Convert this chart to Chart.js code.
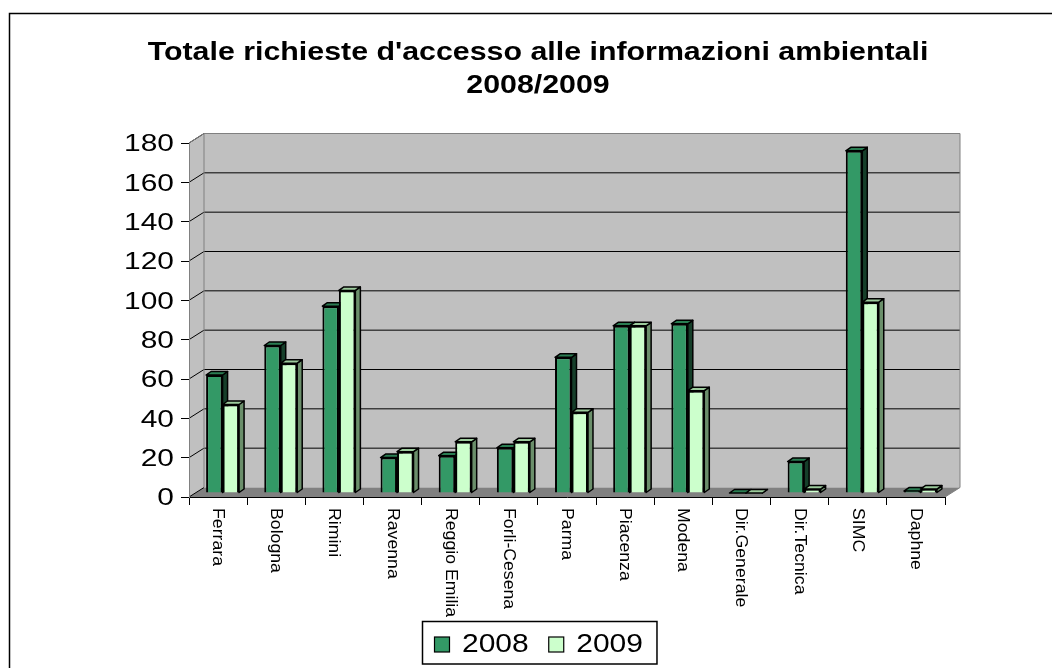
<!DOCTYPE html>
<html lang="it">
<head>
<meta charset="utf-8">
<title>Richieste d'accesso alle informazioni ambientali</title>
<script src="https://cdn.jsdelivr.net/npm/chart.js@4.4.1/dist/chart.umd.min.js"></script>
<style>
  html, body { margin: 0; padding: 0; background: #fff; }
  #grafico { display: block; }
</style>
</head>
<body>
<canvas id="grafico" width="1052" height="668"></canvas>
<script>
// ===============================
// Dati
// ===============================
const sedi = ['Ferrara', 'Bologna', 'Rimini', 'Ravenna', 'Reggio Emilia', 'Forli-Cesena', 'Parma',
  'Piacenza', 'Modena', 'Dir.Generale', 'Dir.Tecnica', 'SIMC', 'Daphne'];
const anni = ['2008', '2009'];
const richieste2008 = [60, 75, 95, 18, 19, 23, 69, 85, 86, 0, 16, 174, 1];
const richieste2009 = [45, 66, 103, 21, 26, 26, 41, 85, 52, 0, 2, 97, 2];
const asseY = { min: 0, max: 180, passo: 20 };
const titolo = ["Totale richieste d'accesso alle informazioni ambientali", '2008/2009'];

// colori stile Excel: fronte, lato, cima
const colori = [
  { fronte: '#339966', lato: '#163F2A', cima: '#2A7D52' },
  { fronte: '#CCFFCC', lato: '#6B8F6B', cima: '#9CCB9C' }
];

const FONT = '"Liberation Sans", Arial, sans-serif';
const PARETE = { dx: 15, dy: -9.5 };  // profondita' delle pareti
const COLONNA = { dx: 5, dy: -3.5 };  // profondita' delle colonne
const SPOSTA = { x: 4.5, y: -4 };     // colonne a meta' del pavimento

// ===============================
// Plugin: pareti, colonne 3D, testi
// ===============================
const scena3d = {
  id: 'scena3d',
  beforeDraw(chart) {
    const { ctx, chartArea: a } = chart;
    const y = chart.scales.y;
    const dx = PARETE.dx, dy = PARETE.dy;
    ctx.save();
    ctx.fillStyle = '#fff';
    ctx.fillRect(0, 0, chart.width, chart.height);

    // cornice esterna
    ctx.strokeStyle = '#000';
    ctx.lineWidth = 1.5;
    ctx.strokeRect(9.5, 13.5, chart.width, chart.height);

    // parete laterale + parete di fondo
    ctx.fillStyle = '#C0C0C0';
    ctx.beginPath();
    ctx.moveTo(a.left, a.top);
    ctx.lineTo(a.left + dx, a.top + dy);
    ctx.lineTo(a.left + dx, a.bottom + dy);
    ctx.lineTo(a.left, a.bottom);
    ctx.closePath();
    ctx.fill();
    ctx.fillRect(a.left + dx, a.top + dy, a.right - a.left, a.bottom - a.top);

    // pavimento
    ctx.fillStyle = '#808080';
    ctx.beginPath();
    ctx.moveTo(a.left, a.bottom);
    ctx.lineTo(a.left + dx, a.bottom + dy);
    ctx.lineTo(a.right + dx, a.bottom + dy);
    ctx.lineTo(a.right, a.bottom);
    ctx.closePath();
    ctx.fill();

    // griglia sulla parete
    ctx.strokeStyle = '#000';
    ctx.lineWidth = 1;
    y.ticks.forEach(t => {
      const py = y.getPixelForValue(t.value);
      ctx.beginPath();
      ctx.moveTo(a.left, py);
      ctx.lineTo(a.left + dx, py + dy);
      if (t.value > y.min && t.value < y.max) ctx.lineTo(a.right + dx, py + dy);
      ctx.stroke();
    });

    // bordi grigi
    ctx.strokeStyle = '#808080';
    ctx.beginPath();
    ctx.moveTo(a.left, a.top);
    ctx.lineTo(a.left + dx, a.top + dy);
    ctx.lineTo(a.right + dx, a.top + dy);
    ctx.lineTo(a.right + dx, a.bottom + dy);
    ctx.lineTo(a.right, a.bottom);
    ctx.moveTo(a.left + dx, a.top + dy);
    ctx.lineTo(a.left + dx, a.bottom + dy);
    ctx.stroke();
    ctx.restore();
  },

  beforeDatasetsDraw(chart) {
    const ctx = chart.ctx;
    ctx.save();
    ctx.translate(SPOSTA.x, SPOSTA.y);
    ctx.strokeStyle = '#000';
    ctx.lineWidth = 1.5;
    ctx.lineJoin = 'round';
    chart.data.datasets.forEach((ds, i) => {
      const c = colori[i];
      chart.getDatasetMeta(i).data.forEach(bar => {
        const { x, y, base, width } = bar.getProps(['x', 'y', 'base', 'width'], true);
        const l = x - width / 2, r = x + width / 2;
        // lato destro
        ctx.fillStyle = c.lato;
        ctx.beginPath();
        ctx.moveTo(r, y);
        ctx.lineTo(r + COLONNA.dx, y + COLONNA.dy);
        ctx.lineTo(r + COLONNA.dx, base + COLONNA.dy);
        ctx.lineTo(r, base);
        ctx.closePath();
        ctx.fill();
        ctx.stroke();
        // cima
        ctx.fillStyle = c.cima;
        ctx.beginPath();
        ctx.moveTo(l, y);
        ctx.lineTo(l + COLONNA.dx, y + COLONNA.dy);
        ctx.lineTo(r + COLONNA.dx, y + COLONNA.dy);
        ctx.lineTo(r, y);
        ctx.closePath();
        ctx.fill();
        ctx.stroke();
      });
    });
  },

  afterDatasetsDraw(chart) {
    chart.ctx.restore();
  },

  afterDraw(chart) {
    const { ctx, chartArea: a } = chart;
    const x = chart.scales.x, y = chart.scales.y;
    ctx.save();
    ctx.fillStyle = '#000';

    // titolo
    ctx.font = 'bold 25.5px ' + FONT;
    ctx.textAlign = 'center';
    ctx.textBaseline = 'alphabetic';
    titolo.forEach((riga, i) => {
      ctx.save();
      ctx.translate(538, 60 + i * 33);
      ctx.scale(1.19, 1);
      ctx.fillText(riga, 0, 0);
      ctx.restore();
    });

    // etichette asse Y
    ctx.font = '23px ' + FONT;
    ctx.textAlign = 'right';
    y.ticks.forEach(t => {
      const py = y.getPixelForValue(t.value);
      ctx.save();
      ctx.translate(a.left - 15, py + 8.2);
      ctx.scale(1.3, 1);
      ctx.fillText(String(t.value), 0, 0);
      ctx.restore();
    });

    // etichette asse X, ruotate
    ctx.font = '17px ' + FONT;
    ctx.textAlign = 'left';
    chart.data.labels.forEach((lab, i) => {
      const px = x.getPixelForValue(i);
      ctx.save();
      ctx.translate(px - 5, a.bottom + 11);
      ctx.rotate(Math.PI / 2);
      ctx.scale(1.04, 1);
      ctx.fillText(lab, 0, 0);
      ctx.restore();
    });

    // legenda
    ctx.font = '25px ' + FONT;
    ctx.textAlign = 'left';
    const box = { x: 422.5, y: 621.5, h: 42.5 };
    let cx = box.x + 12;
    chart.data.datasets.forEach((ds, i) => {
      ctx.fillStyle = colori[i].fronte;
      ctx.fillRect(cx, 637, 15, 15);
      ctx.strokeStyle = '#000';
      ctx.lineWidth = 1.2;
      ctx.strokeRect(cx, 637, 15, 15);
      const tw = ctx.measureText(ds.label).width * 1.2;
      ctx.fillStyle = '#000';
      ctx.save();
      ctx.translate(cx + 27.5, 651.7);
      ctx.scale(1.2, 1);
      ctx.fillText(ds.label, 0, 0);
      ctx.restore();
      cx = cx + 27.5 + tw + 20;
    });
    ctx.strokeStyle = '#000';
    ctx.lineWidth = 1.5;
    ctx.strokeRect(box.x, box.y, cx - 20 + 14 - box.x, box.h);
    ctx.restore();
  }
};

// ===============================
// Grafico
// ===============================
new Chart(document.getElementById('grafico'), {
  type: 'bar',
  data: {
    labels: sedi,
    datasets: [
      { label: anni[0], data: richieste2008, backgroundColor: colori[0].fronte, borderColor: '#000', borderWidth: 2 },
      { label: anni[1], data: richieste2009, backgroundColor: colori[1].fronte, borderColor: '#000', borderWidth: 2 }
    ]
  },
  options: {
    responsive: false,
    animation: false,
    layout: { padding: { top: 143, right: 107, bottom: 161, left: 0 } },
    datasets: { bar: { categoryPercentage: 0.567, barPercentage: 1 } },
    plugins: {
      legend: { display: false },
      title: { display: false },
      tooltip: { enabled: false }
    },
    scales: {
      x: {
        grid: { drawOnChartArea: false, drawTicks: true, tickLength: 8, color: '#000', offset: true },
        border: { color: '#000', width: 1 },
        ticks: { display: false },
        afterFit(s) { s.height = 10; }
      },
      y: {
        min: asseY.min,
        max: asseY.max,
        ticks: { stepSize: asseY.passo, display: false },
        grid: { drawOnChartArea: false, drawTicks: true, tickLength: 8, color: '#000' },
        border: { color: '#808080', width: 1 },
        afterFit(s) { s.width = 189; }
      }
    }
  },
  plugins: [scena3d]
});
</script>
</body>
</html>
